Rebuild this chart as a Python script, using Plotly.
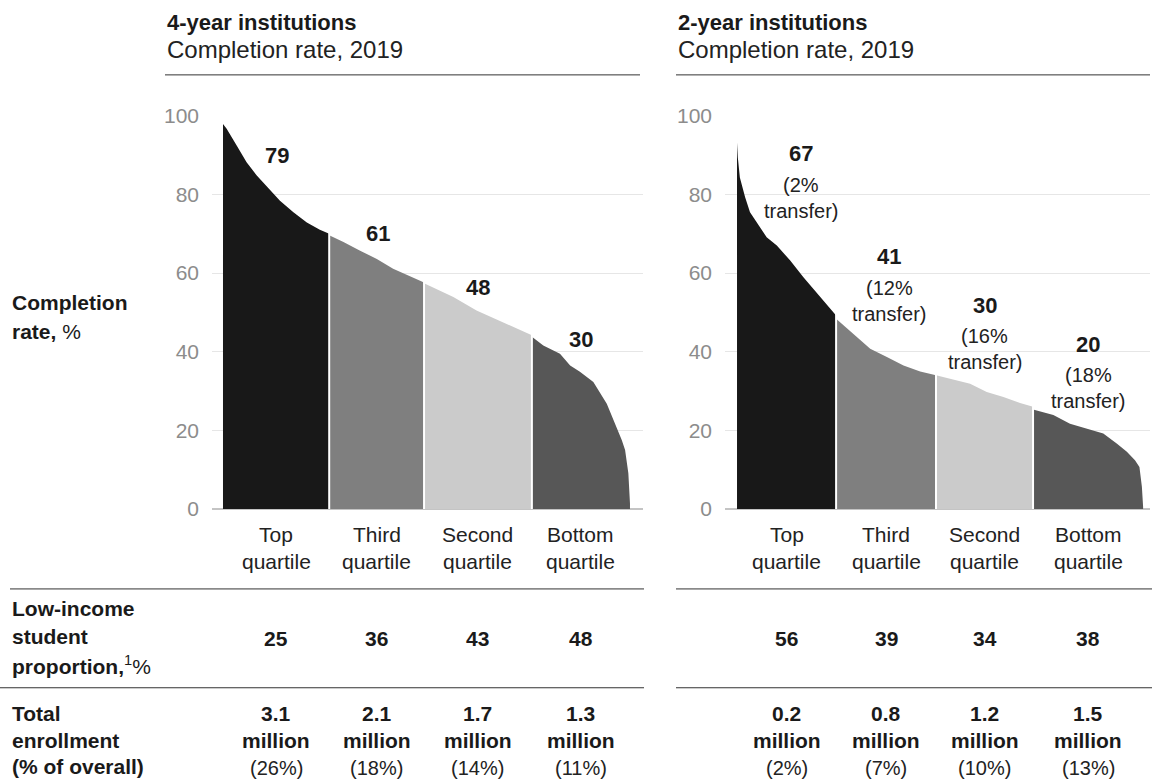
import plotly.graph_objects as go

W, H = 1152, 782
FONT = "Liberation Sans"

# ---------------- data ----------------
quartiles = ["Top", "Third", "Second", "Bottom"]
colors = ["#181818", "#7f7f7f", "#cbcbcb", "#575757"]

# x = cumulative share of institutions (%), y = completion rate (%)
four_bounds = [0, 26.1, 49.4, 75.9, 100]
four_top_x = [0, 0.9, 3.4, 5.8, 8.3, 10.7, 14.0, 17.3, 20.6, 23.8, 26.1]
four_top_y = [97.9, 96.7, 92.4, 88.2, 84.8, 82.2, 78.4, 75.5, 72.9, 71.0, 70.0]
four_third_x = [26.1, 29.6, 33.7, 37.8, 41.8, 45.9, 49.4]
four_third_y = [69.6, 67.9, 65.7, 63.6, 61.1, 59.1, 57.6]
four_second_x = [49.4, 56.6, 62.3, 68.9, 75.9]
four_second_y = [57.4, 53.9, 50.5, 47.5, 44.2]
four_bottom_x = [75.9, 78.7, 82.8, 85.3, 87.7, 91.0, 94.3, 96.7, 98.0, 98.8, 99.6, 100]
four_bottom_y = [43.8, 41.6, 39.5, 36.5, 34.9, 32.3, 26.8, 20.9, 17.5, 15.0, 9.1, 1.4]

two_bounds = [0, 24.4, 49.0, 72.9, 100]
two_top_x = [0, 0.2, 0.7, 2.0, 3.2, 4.8, 7.3, 9.8, 13.1, 16.3, 18.8, 21.3, 24.4]
two_top_y = [93.2, 89.4, 84.3, 79.3, 75.5, 72.9, 69.1, 67.0, 63.2, 59.0, 56.0, 53.0, 49.2]
two_third_x = [24.4, 27.8, 32.8, 36.9, 41.0, 45.1, 49.0]
two_third_y = [48.4, 45.4, 40.8, 38.7, 36.5, 35.0, 34.0]
two_second_x = [49.0, 53.3, 57.4, 61.5, 65.6, 69.7, 72.9]
two_second_y = [34.0, 32.9, 31.9, 29.8, 28.5, 27.0, 26.0]
two_bottom_x = [72.9, 77.9, 82.0, 86.1, 90.2, 93.5, 96.0, 98.0, 99.1, 99.7, 100]
two_bottom_y = [25.3, 23.9, 21.7, 20.5, 19.2, 16.7, 14.6, 12.4, 10.7, 5.7, 0.6]

four_rate = [79, 61, 48, 30]
two_rate = [67, 41, 30, 20]
two_transfer = [2, 12, 16, 18]

four_low_income = [25, 36, 43, 48]
two_low_income = [56, 39, 34, 38]
four_enroll = [3.1, 2.1, 1.7, 1.3]
four_enroll_pct = [26, 18, 14, 11]
two_enroll = [0.2, 0.8, 1.2, 1.5]
two_enroll_pct = [2, 7, 10, 13]

y_ticks = [0, 20, 40, 60, 80, 100]

# label placement (data units / pixel shifts, styling only)
four_label_y = [90, 70, 56.3, 43.1]
four_label_dx = [1, 1, 0, 0]
two_label_y = [90.4, 64.2, 51.8, 41.9]
two_label_dx = [14, 3, 0, 0]

# ---------------- figure ----------------
fig = go.Figure()

panels = [
    dict(xa="x", ya="y", bounds=four_bounds,
         segs=[(four_top_x, four_top_y), (four_third_x, four_third_y),
               (four_second_x, four_second_y), (four_bottom_x, four_bottom_y)]),
    dict(xa="x2", ya="y2", bounds=two_bounds,
         segs=[(two_top_x, two_top_y), (two_third_x, two_third_y),
               (two_second_x, two_second_y), (two_bottom_x, two_bottom_y)]),
]

for p in panels:
    for (sx, sy), c, q in zip(p["segs"], colors, quartiles):
        fig.add_trace(go.Scatter(x=sx, y=sy, mode="lines", fill="tozeroy",
                                 fillcolor=c, line=dict(width=0, color=c),
                                 xaxis=p["xa"], yaxis=p["ya"], name=q,
                                 hoverinfo="skip", showlegend=False))
    # white separators between quartiles
    for i in range(1, 4):
        bx = p["bounds"][i]
        top = max(p["segs"][i - 1][1][-1], p["segs"][i][1][0])
        fig.add_trace(go.Scatter(x=[bx, bx], y=[0, top + 0.5], mode="lines",
                                 line=dict(color="white", width=2),
                                 xaxis=p["xa"], yaxis=p["ya"],
                                 hoverinfo="skip", showlegend=False))

# vertical placement helper (screen pixel -> paper fraction), calibrated to the
# rendered page
TOP_OFF, EFF_H = 11.0, 760.4
def py(px):
    return 1 - (px - TOP_OFF) / EFF_H

annotations = []

def txt(x, y, text, xref="paper", yref="paper", size=21, color="#1a1a1a",
        xanchor="center", yanchor="middle", yshift=0, xshift=0):
    annotations.append(dict(x=x, y=y, xref=xref, yref=yref, text=text,
                            showarrow=False, xanchor=xanchor, yanchor=yanchor,
                            yshift=yshift, xshift=xshift,
                            font=dict(family=FONT, size=size, color=color)))

def centers(b):
    return [(b[i] + b[i + 1]) / 2 for i in range(4)]

c4 = centers(four_bounds)
c2 = centers(two_bounds)

# value labels on areas
for cx, ly, dx, v in zip(c4, four_label_y, four_label_dx, four_rate):
    txt(cx, ly, f"<b>{v}</b>", xref="x", yref="y", size=22, xshift=dx)
for cx, ly, dx, v, t in zip(c2, two_label_y, two_label_dx, two_rate, two_transfer):
    txt(cx, ly, f"<b>{v}</b>", xref="x2", yref="y2", size=22, xshift=dx)
    txt(cx, ly, f"({t}%", xref="x2", yref="y2", size=20, yshift=-31,
        xshift=dx, color="#222222")
    txt(cx, ly, "transfer)", xref="x2", yref="y2", size=20, yshift=-57,
        xshift=dx, color="#222222")

# quartile axis labels and table values
for cs, xr, low, en, enp in [(c4, "x", four_low_income, four_enroll, four_enroll_pct),
                             (c2, "x2", two_low_income, two_enroll, two_enroll_pct)]:
    for cx, q, l, e, ep in zip(cs, quartiles, low, en, enp):
        txt(cx, py(534), q, xref=xr, size=21, color="#222222")
        txt(cx, py(562), "quartile", xref=xr, size=21, color="#222222")
        txt(cx, py(639), f"<b>{l}</b>", xref=xr, size=21)
        txt(cx, py(714), f"<b>{e}</b>", xref=xr, size=21)
        txt(cx, py(741), "<b>million</b>", xref=xr, size=21)
        txt(cx, py(768), f"({ep}%)", xref=xr, size=20, color="#222222")

# headers
txt(165 / W, py(22), "<b>4-year institutions</b>", size=22, xanchor="left")
txt(165 / W, py(49), "Completion rate, 2019", size=24, xanchor="left", color="#222222")
txt(676 / W, py(22), "<b>2-year institutions</b>", size=22, xanchor="left")
txt(676 / W, py(49), "Completion rate, 2019", size=24, xanchor="left", color="#222222")

# row labels
txt(10 / W, py(302), "<b>Completion</b>", size=21, xanchor="left")
txt(10 / W, py(331), "<b>rate,</b> %", size=21, xanchor="left")
txt(10 / W, py(609), "<b>Low-income</b>", size=21, xanchor="left")
txt(10 / W, py(637), "<b>student</b>", size=21, xanchor="left")
txt(10 / W, py(665), "<b>proportion,</b><sup>1</sup>%", size=21, xanchor="left")
txt(10 / W, py(714), "<b>Total</b>", size=21, xanchor="left")
txt(10 / W, py(741), "<b>enrollment</b>", size=21, xanchor="left")
txt(10 / W, py(767), "<b>(% of overall)</b>", size=21, xanchor="left")

shapes = []
def hline(x0, x1, y, color="#333333", width=1):
    shapes.append(dict(type="line", xref="paper", yref="paper",
                       x0=x0 / W, x1=x1 / W, y0=py(y), y1=py(y),
                       line=dict(color=color, width=width)))

hline(165, 640, 74)
hline(676, 1150, 74)
hline(10, 644, 589)
hline(676, 1152, 589)
hline(0, 644, 688)
hline(676, 1152, 688)

ydom = [py(509), py(115)]
axis_y = dict(range=[0, 100], domain=ydom, tickvals=y_ticks,
              showgrid=True, gridcolor="#e6e6e6", gridwidth=1,
              zeroline=True, zerolinecolor="#c4c4c4", zerolinewidth=1.5,
              showline=False, ticks="", ticklabelstandoff=12,
              tickfont=dict(family=FONT, size=21, color="#8c8c8c"),
              fixedrange=True)

fig.update_layout(
    width=W, height=H, autosize=False,
    margin=dict(l=0, r=0, t=0, b=0, pad=0),
    paper_bgcolor="white", plot_bgcolor="white",
    showlegend=False,
    xaxis=dict(domain=[212 / W, 643 / W], range=[-2.7, 103.2],
               showgrid=False, zeroline=False, showticklabels=False, ticks=""),
    xaxis2=dict(domain=[725 / W, 1150 / W], range=[-2.96, 101.7],
                showgrid=False, zeroline=False, showticklabels=False, ticks=""),
    yaxis=dict(anchor="x", **axis_y),
    yaxis2=dict(anchor="x2", **axis_y),
    annotations=annotations,
    shapes=shapes,
)

fig.write_html("out.html")
